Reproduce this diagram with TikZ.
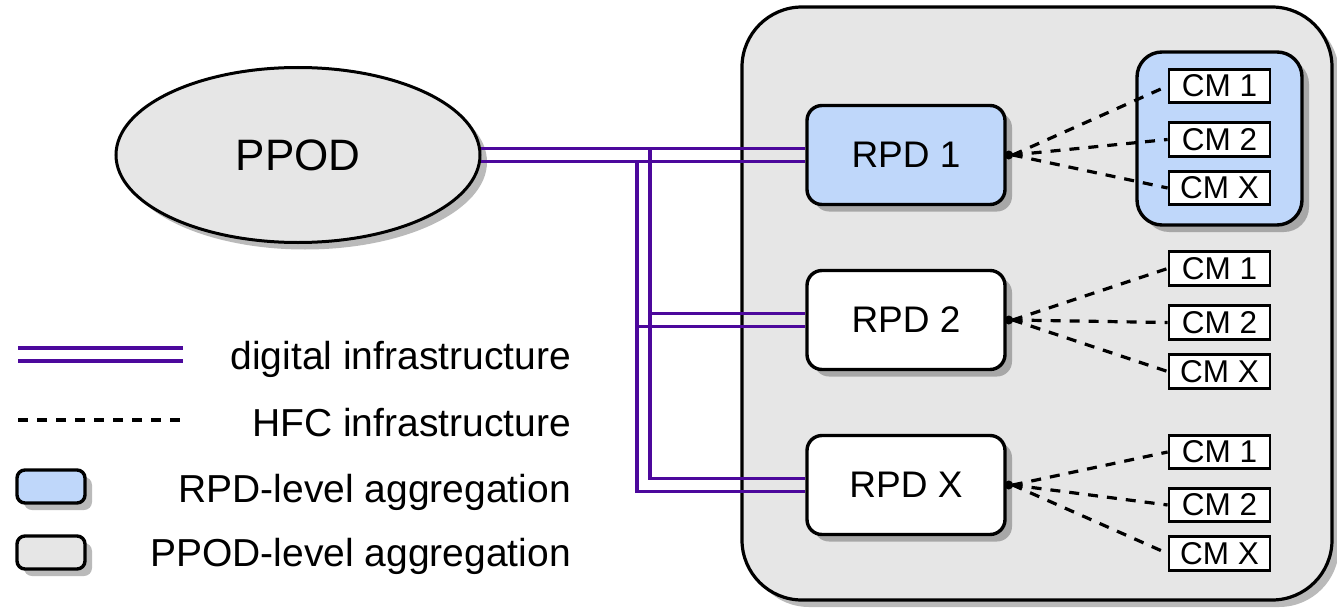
\documentclass[tikz,border=0pt]{standalone}
\usepackage{fontspec}
\setmainfont{Liberation Sans}
\usetikzlibrary{shapes.geometric,shadows,calc}
\definecolor{boxgray}{RGB}{230,230,230}
\definecolor{aggblue}{RGB}{191,215,250}
\definecolor{wire}{RGB}{76,8,156}
\tikzset{
 shd/.style={drop shadow={shadow xshift=7pt,shadow yshift=-7pt,opacity=0.27,fill=black}},
 rpdbox/.style={draw,line width=3.4pt,rounded corners=15pt,minimum width=198pt,minimum height=99pt,shd,font=\fontsize{37}{40}\selectfont},
 cmbox/.style={draw,line width=2.8pt,fill=white,minimum width=101pt,minimum height=33.5pt,inner sep=0pt,font=\fontsize{31.5}{33}\selectfont},
 hfc/.style={black,line width=3.2pt,dash pattern=on 10pt off 9pt},
 wirel/.style={wire,line width=3.2pt},
 legtxt/.style={anchor=base east,font=\fontsize{39}{42}\selectfont,inner sep=0pt},
}
\begin{document}
\begin{tikzpicture}[x=1pt,y=-1pt]
\useasboundingbox (0,0) rectangle (1337,607);
% PPOD-level aggregation box
\node[draw,line width=3.2pt,fill=boxgray,rounded corners=60pt,minimum width=590pt,minimum height=593pt,shd] (ppodagg) at (1037,303.5) {};
% RPD-level aggregation group
\node[draw,line width=3.4pt,fill=aggblue,rounded corners=25pt,minimum width=165pt,minimum height=173pt,shd] (grp1) at (1219.5,138.5) {};
% PPOD
\node[ellipse,draw,line width=3pt,fill=boxgray,minimum width=364pt,minimum height=175pt,inner sep=0pt,shd,font=\fontsize{44}{48}\selectfont] (ppod) at (298,155) {PPOD};
% RPDs
\node[rpdbox,fill=aggblue] (rpd1) at (906,155) {RPD 1};
\node[rpdbox,fill=white] (rpd2) at (906,320) {RPD 2};
\node[rpdbox,fill=white] (rpdx) at (906,485) {RPD X};
% CMs
\node[cmbox] (cm11) at (1219.5,86) {CM 1};
\node[cmbox] (cm12) at (1219.5,139.5) {CM 2};
\node[cmbox] (cm1x) at (1219.5,188) {CM X};
\node[cmbox] (cm21) at (1219.5,268.5) {CM 1};
\node[cmbox] (cm22) at (1219.5,322.5) {CM 2};
\node[cmbox] (cm2x) at (1219.5,371.5) {CM X};
\node[cmbox] (cmx1) at (1219.5,452) {CM 1};
\node[cmbox] (cmx2) at (1219.5,505) {CM 2};
\node[cmbox] (cmxx) at (1219.5,553.5) {CM X};
% HFC links
\foreach \r/\g in {rpd1/1,rpd2/2,rpdx/x}{
  \foreach \c in {1,2,x}{
    \draw[hfc] ($(\r.east)+(6,0)$) -- (cm\g\c.west);
  }
  \fill ($(\r.east)+(2,0)$) circle (4.5);
}
% digital links
\coordinate (ji) at (650,148.5);
\coordinate (jo) at (637,161.5);
\draw[wirel] ($(ppod.east)+(-1,-6.5)$) -- ($(rpd1.west)+(0,-6.5)$);
\draw[wirel] ($(ppod.east)+(-1,6.5)$) -- ($(rpd1.west)+(0,6.5)$);
\draw[wirel] (ji) |- ($(rpdx.west)+(0,-6.5)$);
\draw[wirel] ($(ji |- rpd2.west)+(0,-6.5)$) -- ($(rpd2.west)+(0,-6.5)$);
\draw[wirel] (jo) |- ($(rpdx.west)+(0,6.5)$);
\draw[wirel] ($(jo |- rpd2.west)+(0,6.5)$) -- ($(rpd2.west)+(0,6.5)$);
% legend
\coordinate (l1a) at (18,348); \coordinate (l1b) at (183,348);
\coordinate (l2a) at (18,361); \coordinate (l2b) at (183,361);
\coordinate (l3a) at (18,420); \coordinate (l3b) at (183,420);
\draw[wirel] (l1a) -- (l1b);
\draw[wirel] (l2a) -- (l2b);
\draw[hfc] (l3a) -- (l3b);
\node[draw,line width=3.4pt,rounded corners=8pt,fill=aggblue,minimum width=68pt,minimum height=33pt,shd] (legrpd) at (51,486.5) {};
\node[draw,line width=3.4pt,rounded corners=8pt,fill=boxgray,minimum width=68pt,minimum height=33pt,shd] (legppod) at (51,552.5) {};
\node[legtxt] (t1) at (571,369) {digital infrastructure};
\node[legtxt] (t2) at (571,436) {HFC infrastructure};
\node[legtxt] (t3) at (571,502) {RPD-level aggregation};
\node[legtxt] (t4) at (571,566) {PPOD-level aggregation};
\end{tikzpicture}
\end{document}
